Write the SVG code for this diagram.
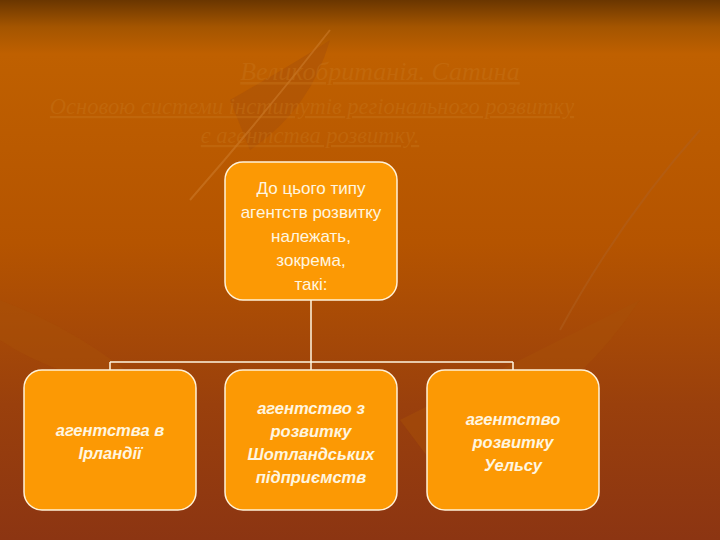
<svg xmlns="http://www.w3.org/2000/svg" width="720" height="540" viewBox="0 0 720 540">
<defs>
<linearGradient id="bg" x1="0" y1="0" x2="0" y2="1">
<stop offset="0" stop-color="#6a3600"/>
<stop offset="0.05" stop-color="#a45500"/>
<stop offset="0.1" stop-color="#bf6000"/>
<stop offset="0.45" stop-color="#b55400"/>
<stop offset="0.75" stop-color="#9a400c"/>
<stop offset="1" stop-color="#8c3512"/>
</linearGradient>
<style>
.box{fill:#fc9904;stroke:#fff2d8;stroke-width:1.5}
.t{font-family:"Liberation Sans",Arial,sans-serif;font-size:17px;fill:#fff6e0;text-anchor:middle}
.b{font-weight:bold;font-style:italic;font-size:16.5px}
.ttl{font-family:"Liberation Serif","Times New Roman",serif;font-style:italic;fill:#c8761c;text-decoration:underline;text-anchor:middle}
.leaf{fill:#a84f08;opacity:0.5}
</style>
</defs>
<rect width="720" height="540" fill="url(#bg)"/>
<path class="leaf" d="M230 100 Q300 60 330 40 Q310 110 250 150 Z"/>
<path class="leaf" d="M0 300 Q80 330 150 390 Q60 380 0 340 Z"/>
<path class="leaf" d="M400 420 Q520 360 640 300 Q560 420 430 460 Z"/>
<path d="M190 200 Q260 120 330 30" stroke="#d08030" stroke-width="2" fill="none" opacity="0.5"/>
<path d="M560 330 Q620 220 700 130" stroke="#b06020" stroke-width="2" fill="none" opacity="0.5"/>
<g id="title" opacity="0.4">
<text class="ttl" x="380" y="80" font-size="26">Великобританія. Сатина</text>
<text class="ttl" x="312" y="114" font-size="22.5">Основою системи інститутів регіонального розвитку</text>
<text class="ttl" x="310" y="143" font-size="22.5">є агентства розвитку.</text>
</g>
<g id="connectors" stroke="#fff6e0" stroke-width="1.5" fill="none">
<path d="M311 300 V362 M110 362 H513 M110 362 V370 M311 362 V370 M513 362 V370"/>
</g>
<g id="root">
<rect class="box" x="225" y="162" width="172" height="138" rx="18"/>
<text class="t" x="311" y="194">До цього типу</text>
<text class="t" x="311" y="218">агентств розвитку</text>
<text class="t" x="311" y="242">належать,</text>
<text class="t" x="311" y="266">зокрема,</text>
<text class="t" x="311" y="290">такі:</text>
</g>
<g id="n1">
<rect class="box" x="24" y="370" width="172" height="140" rx="18"/>
<text class="t b" x="110" y="436">агентства в</text>
<text class="t b" x="110" y="459">Ірландії</text>
</g>
<g id="n2">
<rect class="box" x="225" y="370" width="172" height="140" rx="18"/>
<text class="t b" x="311" y="414">агентство з</text>
<text class="t b" x="311" y="437">розвитку</text>
<text class="t b" x="311" y="460">Шотландських</text>
<text class="t b" x="311" y="483">підприємств</text>
</g>
<g id="n3">
<rect class="box" x="427" y="370" width="172" height="140" rx="18"/>
<text class="t b" x="513" y="425">агентство</text>
<text class="t b" x="513" y="448">розвитку</text>
<text class="t b" x="513" y="471">Уельсу</text>
</g>
</svg>
